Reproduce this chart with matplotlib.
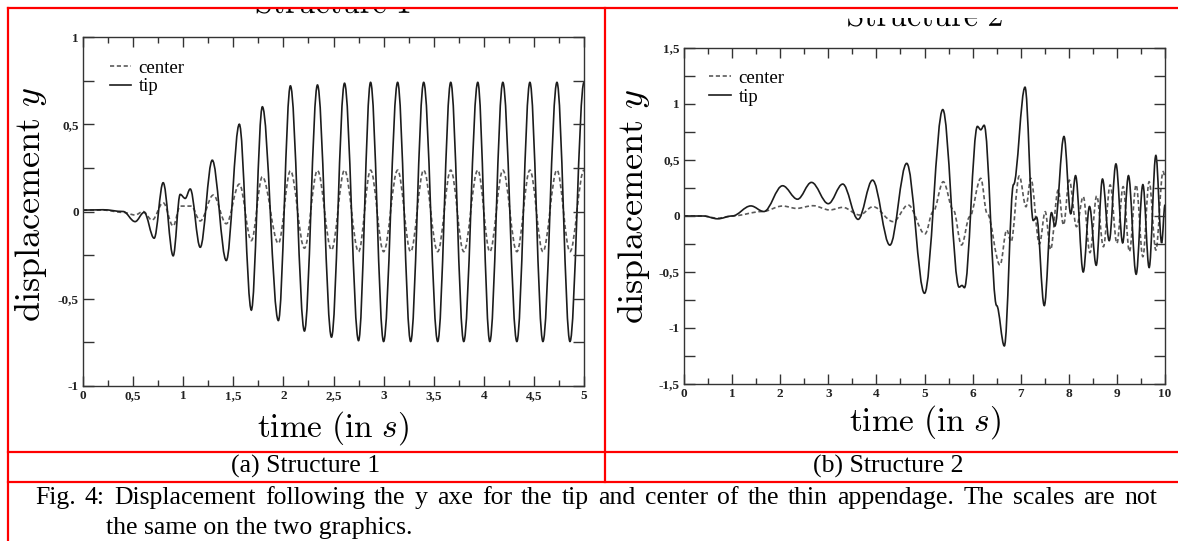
import matplotlib
matplotlib.use('Agg')
import matplotlib.pyplot as plt
from matplotlib.path import Path
from matplotlib.patches import PathPatch
from matplotlib.lines import Line2D
from matplotlib.textpath import TextPath
from matplotlib.transforms import Affine2D, Bbox, IdentityTransform
from matplotlib.ticker import MultipleLocator, FuncFormatter

plt.rcParams['mathtext.fontset'] = 'cm'

# Structure 1: extrema (time in s, displacement)
s1_tip_t = [0, 0.2, 0.4, 0.52, 0.61, 0.71, 0.80, 0.90, 0.97, 1.02, 1.07, 1.17, 1.29, 1.43,
            1.56, 1.68, 1.79, 1.95, 2.07, 2.21, 2.34, 2.48, 2.61, 2.75, 2.87, 3.00, 3.14, 3.27,
            3.40, 3.54, 3.67, 3.80, 3.94, 4.06, 4.19, 4.33, 4.46, 4.59, 4.73, 4.86, 5.00]
s1_tip_y = [0.008, 0.01, 0.0, -0.058, -0.005, -0.153, 0.165, -0.254, 0.098, 0.075, 0.129, -0.205, 0.294, -0.281,
            0.50, -0.565, 0.60, -0.625, 0.72, -0.685, 0.725, -0.72, 0.735, -0.74, 0.74, -0.745, 0.74, -0.745,
            0.74, -0.745, 0.74, -0.745, 0.74, -0.745, 0.74, -0.745, 0.74, -0.745, 0.74, -0.745, 0.74]
s1_ctr_t = [0, 0.2, 0.4, 0.52, 0.60, 0.69, 0.80, 0.90, 0.97, 1.08, 1.17, 1.30, 1.43,
            1.56, 1.68, 1.79, 1.95, 2.07, 2.21, 2.34, 2.48, 2.61, 2.75, 2.87, 3.00, 3.14, 3.27,
            3.40, 3.54, 3.67, 3.80, 3.94, 4.06, 4.19, 4.33, 4.46, 4.59, 4.73, 4.86, 5.00]
s1_ctr_y = [0.008, 0.008, -0.005, -0.02, 0.0, -0.049, 0.05, -0.083, 0.031, 0.031, -0.054, 0.094, -0.07,
            0.157, -0.167, 0.199, -0.182, 0.233, -0.21, 0.235, -0.22, 0.237, -0.23, 0.237, -0.23, 0.237, -0.23,
            0.237, -0.23, 0.237, -0.23, 0.237, -0.23, 0.237, -0.23, 0.237, -0.23, 0.237, -0.23, 0.237]

# Structure 2: extrema
s2_tip_t = [0, 0.4, 0.7, 1.0, 1.39, 1.66, 2.05, 2.36, 2.65, 3.00, 3.30, 3.62, 3.92, 4.28, 4.63, 5.00,
            5.38, 5.72, 5.78, 5.83, 6.10, 6.17, 6.24, 6.50, 6.66, 6.85, 7.09, 7.26, 7.33, 7.49, 7.64, 7.71,
            7.90, 8.04, 8.14, 8.30, 8.43, 8.57, 8.70, 8.84, 8.98, 9.12, 9.24, 9.40, 9.54, 9.67, 9.81, 9.93, 10.0]
s2_tip_y = [0, 0, -0.025, 0, 0.09, 0.04, 0.27, 0.15, 0.30, 0.11, 0.285, -0.03, 0.32, -0.26, 0.47, -0.69,
            0.95, -0.635, -0.62, -0.64, 0.80, 0.77, 0.81, -0.80, -1.16, 0.28, 1.15, -0.04, -0.01, -0.80, 0.03, -0.09,
            0.71, 0.02, 0.36, -0.50, 0.085, -0.44, 0.33, -0.22, 0.465, -0.24, 0.36, -0.52, 0.28, -0.46, 0.54, -0.24, 0.1]
s2_ctr_t = [0, 0.4, 0.7, 1.0, 1.63, 2.05, 2.34, 2.68, 3.03, 3.30, 3.65, 3.93, 4.35, 4.66, 5.01,
            5.18, 5.39, 5.60, 5.77, 5.94, 6.17, 6.30, 6.57, 6.71, 6.80, 6.97, 7.11, 7.21, 7.39,
            7.51, 7.62, 7.78, 7.89, 8.01, 8.16, 8.30, 8.44, 8.58, 8.72, 8.86, 9.00, 9.13, 9.26,
            9.40, 9.54, 9.67, 9.81, 9.96, 10.0]
s2_ctr_y = [0, 0, -0.02, 0, 0.04, 0.089, 0.068, 0.092, 0.054, 0.077, 0.009, 0.083, -0.05, 0.098, -0.16,
            0.04, 0.306, 0.054, -0.259, -0.006, 0.336, 0.024, -0.4375, -0.125, -0.23, 0.357, 0.083, 0.336, -0.25,
            0.038, -0.30, 0.232, -0.08, 0.32, -0.095, 0.173, -0.327, 0.179, -0.274, 0.277, -0.244, 0.262, -0.318,
            0.277, -0.363, 0.306, -0.304, 0.396, 0.35]

legend_labels = ['center', 'tip']
titles = [r'$\mathrm{Structure\ 1}$', r'$\mathrm{Structure\ 2}$']
captions = ['(a) Structure 1', '(b) Structure 2']
fig_caption = ['Fig. 4: Displacement following the y axe for the tip and center of the thin appendage. The scales are not',
               'the same on the two graphics.']

W, H = 1178, 541
fig = plt.figure(figsize=(W / 100, H / 100), dpi=100)


def fx(px):
    return px / W


def fy(py):
    return 1 - py / H


def smooth_path(t, y, k=0.36):
    # cubic segments between the read extrema, flat tangent at each one
    verts = [(t[0], y[0])]
    codes = [Path.MOVETO]
    for i in range(len(t) - 1):
        d = t[i + 1] - t[i]
        verts += [(t[i] + k * d, y[i]), (t[i + 1] - k * d, y[i + 1]), (t[i + 1], y[i + 1])]
        codes += [Path.CURVE4] * 3
    return Path(verts, codes)


def comma(v, pos):
    return ('%g' % v).replace('.', ',')


tip_style = dict(color='#1c1c1c', lw=1.2, ls='-')
ctr_style = dict(color='#5a5a5a', lw=1.2, ls=(0, (2.5, 1.6)))


def setup(ax, xmax, xmaj, ymax, tip_t, tip_y, ctr_t, ctr_y):
    ax.add_patch(PathPatch(smooth_path(ctr_t, ctr_y), fill=False, **ctr_style))
    ax.add_patch(PathPatch(smooth_path(tip_t, tip_y), fill=False, **tip_style))
    ax.set_xlim(0, xmax)
    ax.set_ylim(-ymax, ymax)
    ax.xaxis.set_major_locator(MultipleLocator(xmaj))
    ax.xaxis.set_minor_locator(MultipleLocator(xmaj / 2))
    ax.yaxis.set_major_locator(MultipleLocator(0.5))
    ax.yaxis.set_minor_locator(MultipleLocator(0.25))
    ax.xaxis.set_major_formatter(FuncFormatter(comma))
    ax.yaxis.set_major_formatter(FuncFormatter(comma))
    ax.tick_params(which='both', direction='in', top=True, right=True, color='#333333', width=1.0)
    ax.tick_params(axis='x', which='major', length=7, pad=3)
    ax.tick_params(axis='x', which='minor', length=4)
    ax.tick_params(axis='y', which='both', length=8, pad=3)
    for lab in ax.get_xticklabels() + ax.get_yticklabels():
        lab.set_fontfamily('Liberation Serif')
        lab.set_fontweight('bold')
        lab.set_fontsize(9.5)
        lab.set_color('#222222')
    for s in ax.spines.values():
        s.set_color('#333333')
        s.set_linewidth(1.0)
    handles = [Line2D([], [], **ctr_style), Line2D([], [], **tip_style)]
    ax.legend(handles, legend_labels, loc='upper left', bbox_to_anchor=(0.053, 0.935), frameon=False,
              prop={'family': 'Liberation Serif', 'size': 13.5}, handlelength=1.15, handletextpad=0.4,
              labelspacing=0.08, borderaxespad=0, borderpad=0)


ax1 = fig.add_axes([fx(83), fy(386), (584 - 83) / W, (386 - 37) / H])
setup(ax1, 5, 0.5, 1.0, s1_tip_t, s1_tip_y, s1_ctr_t, s1_ctr_y)
ax2 = fig.add_axes([fx(684), fy(384), (1165 - 684) / W, (384 - 48) / H])
setup(ax2, 10, 1, 1.5, s2_tip_t, s2_tip_y, s2_ctr_t, s2_ctr_y)

# axis labels in LaTeX style
fig.text(fx(31), fy(205), r'$\mathrm{displacement}\ y$', rotation=90, ha='center', va='center', fontsize=26)
fig.text(fx(634), fy(207), r'$\mathrm{displacement}\ y$', rotation=90, ha='center', va='center', fontsize=26)
fig.text(fx(333), fy(428), r'$\mathrm{time\ (in}\ s\mathrm{)}$', ha='center', va='center', fontsize=24)
fig.text(fx(925), fy(422), r'$\mathrm{time\ (in}\ s\mathrm{)}$', ha='center', va='center', fontsize=24)

# titles, only their lower part shows below the top of each cell
# (centre x, baseline y, top of visible cell, cell left, cell right) in pixels
for title, (cx, base, top, x0, x1) in zip(titles, [(333, 13, 9, 9, 604), (925, 26, 18, 606, W)]):
    tp = TextPath((0, 0), title, size=32)
    ext = tp.get_extents()
    tr = Affine2D().translate(cx - ext.width / 2 - ext.x0, H - base)
    patch = PathPatch(tp, transform=tr + IdentityTransform(), facecolor='black', edgecolor='none', zorder=3)
    fig.add_artist(patch)
    patch.set_clip_box(Bbox([[x0, 0], [x1, H - top]]))
    patch.set_clip_on(True)

# table borders
red = dict(color='#ff0000', lw=1.6, transform=fig.transFigure, zorder=5)
fig.add_artist(Line2D([fx(8), 1], [fy(8), fy(8)], **red))
fig.add_artist(Line2D([fx(8), 1], [fy(452), fy(452)], **red))
fig.add_artist(Line2D([fx(8), 1], [fy(482), fy(482)], **red))
fig.add_artist(Line2D([fx(8), fx(8)], [fy(8), 0], **red))
fig.add_artist(Line2D([fx(605), fx(605)], [fy(8), fy(482)], **red))

cap_font = dict(family='Liberation Serif', size=18.5, color='black')
fig.text(fx(306), fy(466), captions[0], ha='center', va='center', **cap_font)
fig.text(fx(888), fy(466), captions[1], ha='center', va='center', **cap_font)

# first caption line is justified between x=35 and x=1157
renderer = fig.canvas.get_renderer()
words = fig_caption[0].split(' ')
word_texts = [fig.text(0, fy(498), w, ha='left', va='center', **cap_font) for w in words]
widths = [t.get_window_extent(renderer).width for t in word_texts]
gap = (1157 - 35 - sum(widths)) / (len(words) - 1)
x = 35.0
for t, w in zip(word_texts, widths):
    t.set_x(fx(x))
    x += w + gap
fig.text(fx(106), fy(528), fig_caption[1], ha='left', va='center', **cap_font)

fig.savefig('out.png', dpi=100)
